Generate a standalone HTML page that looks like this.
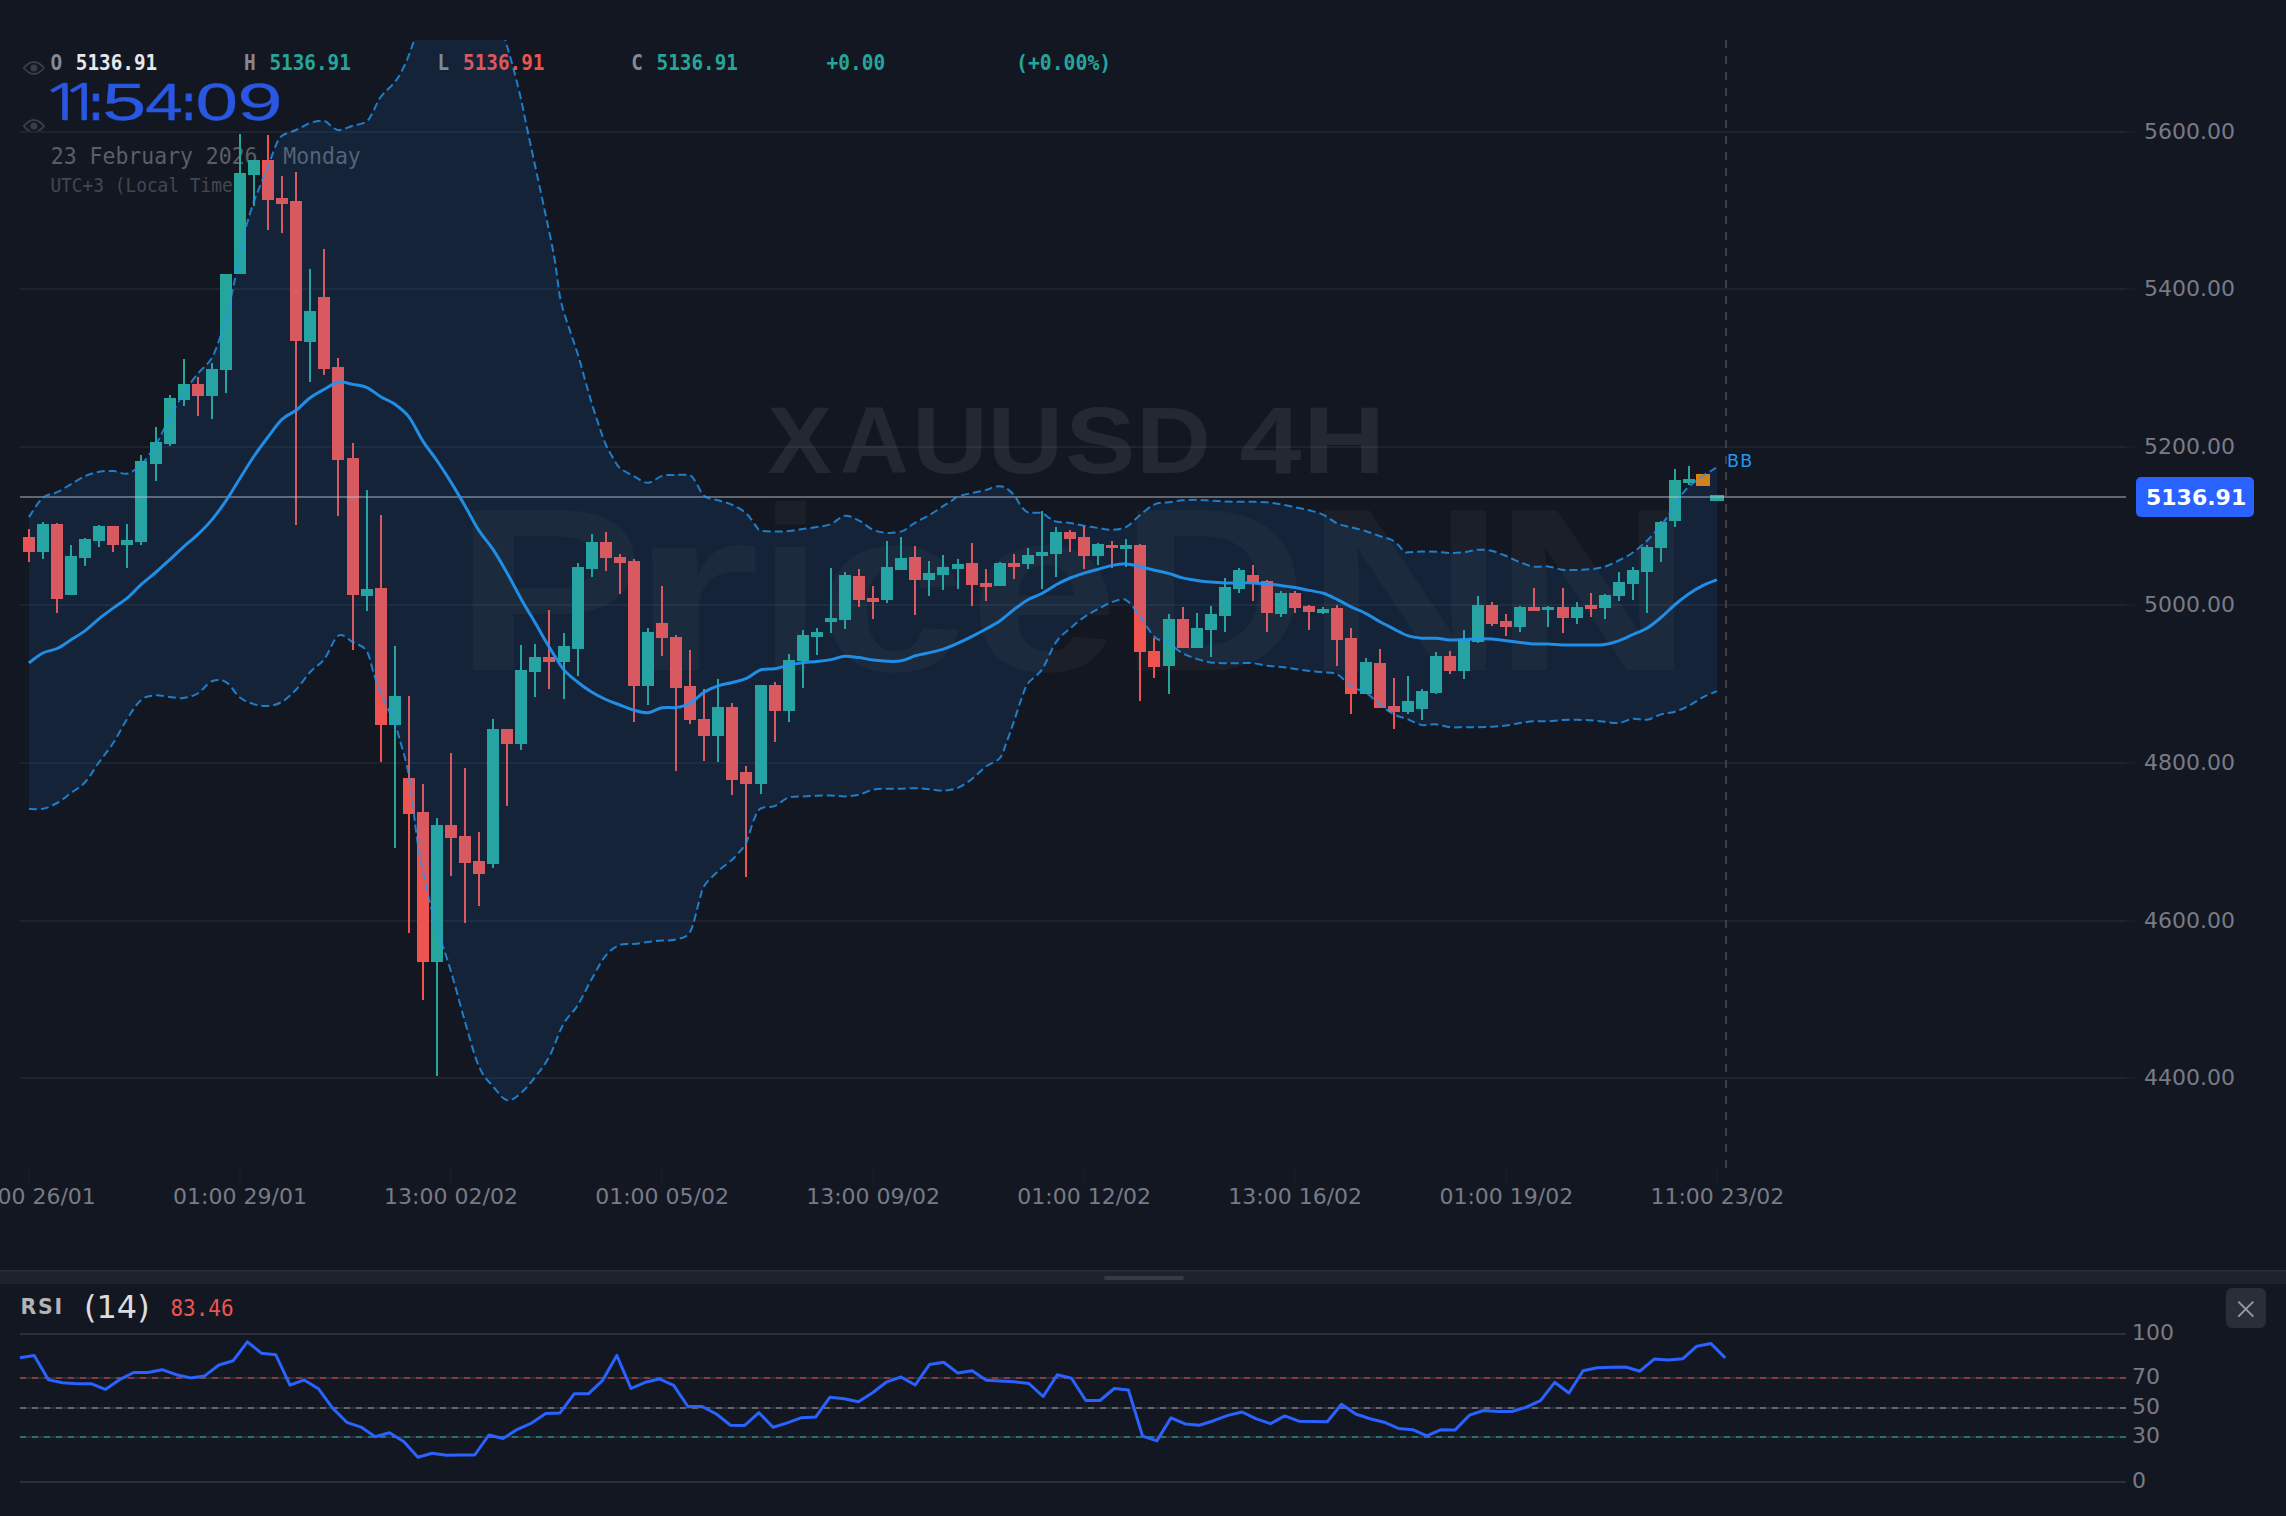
<!DOCTYPE html>
<html lang="en"><head><meta charset="utf-8"><title>XAUUSD 4H</title>
<style>
html,body{margin:0;padding:0;background:#131722;}
body{overflow-x:hidden;}
svg{display:block;width:100vw;height:auto;}
.ax{font-family:"DejaVu Sans","Liberation Sans",sans-serif;font-size:22px;fill:#787b86;}
.mono{font-family:"DejaVu Sans Mono","Liberation Mono",monospace;}
.sans{font-family:"DejaVu Sans","Liberation Sans",sans-serif;}
</style></head><body>
<svg viewBox="0 0 2286 1516" preserveAspectRatio="xMinYMin meet">
<rect width="2286" height="1516" fill="#131722"/>
<defs><clipPath id="pane"><rect x="0" y="40" width="2126" height="1128"/></clipPath></defs>
<g id="under">
<path d="M23.8 68 C26.8 64.4 29.3 62 33.9 62 C38.5 62 41 64.4 44 68 C41 71.6 38.5 74 33.9 74 C29.3 74 26.8 71.6 23.8 68 Z" fill="none" stroke="#3a3d48" stroke-width="1.8" stroke-linejoin="round"/>
<circle cx="33.9" cy="68" r="3.5" fill="#3a3d48"/>
<path d="M23.8 126.1 C26.8 122.5 29.3 120 33.9 120 C38.5 120 41 122.5 44 126.1 C41 129.7 38.5 132.2 33.9 132.2 C29.3 132.2 26.8 129.7 23.8 126.1 Z" fill="none" stroke="#3a3d48" stroke-width="1.8" stroke-linejoin="round"/>
<circle cx="33.9" cy="126.1" r="3.5" fill="#3a3d48"/>
<text class="mono" x="50.4" y="69.7" font-size="21.6" font-weight="bold" fill="#868993" textLength="11.7" lengthAdjust="spacingAndGlyphs">O</text>
<text class="mono" x="75.8" y="69.7" font-size="21.6" font-weight="bold" fill="#e6e8ec" textLength="81.4" lengthAdjust="spacingAndGlyphs">5136.91</text>
<text class="mono" x="244" y="69.7" font-size="21.6" font-weight="bold" fill="#868993" textLength="11.7" lengthAdjust="spacingAndGlyphs">H</text>
<text class="mono" x="269.4" y="69.7" font-size="21.6" font-weight="bold" fill="#26a69a" textLength="81.4" lengthAdjust="spacingAndGlyphs">5136.91</text>
<text class="mono" x="437.6" y="69.7" font-size="21.6" font-weight="bold" fill="#868993" textLength="11.7" lengthAdjust="spacingAndGlyphs">L</text>
<text class="mono" x="463" y="69.7" font-size="21.6" font-weight="bold" fill="#ef5350" textLength="81.4" lengthAdjust="spacingAndGlyphs">5136.91</text>
<text class="mono" x="631.2" y="69.7" font-size="21.6" font-weight="bold" fill="#868993" textLength="11.7" lengthAdjust="spacingAndGlyphs">C</text>
<text class="mono" x="656.6" y="69.7" font-size="21.6" font-weight="bold" fill="#26a69a" textLength="81.4" lengthAdjust="spacingAndGlyphs">5136.91</text>
<text class="mono" x="826.6" y="69.7" font-size="21.6" font-weight="bold" fill="#26a69a" textLength="58.6" lengthAdjust="spacingAndGlyphs">+0.00</text>
<text class="mono" x="1016" y="69.7" font-size="21.6" font-weight="bold" fill="#26a69a" textLength="95.2" lengthAdjust="spacingAndGlyphs">(+0.00%)</text>
<text font-family="Liberation Sans, sans-serif" y="119.9" font-size="52.3" fill="#2957e2" stroke="#2957e2" stroke-width="0.3"><tspan x="39.9" textLength="45.2" lengthAdjust="spacingAndGlyphs" font-weight="normal" font-family="NanumGothic, Liberation Sans, sans-serif" font-size="49.8">1</tspan><tspan x="60.1" textLength="44.0" lengthAdjust="spacingAndGlyphs" font-weight="normal" font-family="NanumGothic, Liberation Sans, sans-serif" font-size="49.8">1</tspan><tspan x="89.2" textLength="13.6" lengthAdjust="spacingAndGlyphs" font-weight="bold">:</tspan><tspan x="102.2" textLength="44.0" lengthAdjust="spacingAndGlyphs" font-weight="normal">5</tspan><tspan x="145.2" textLength="37.6" lengthAdjust="spacingAndGlyphs" font-weight="normal">4</tspan><tspan x="182.0" textLength="13.6" lengthAdjust="spacingAndGlyphs" font-weight="bold">:</tspan><tspan x="195.4" textLength="42.5" lengthAdjust="spacingAndGlyphs" font-weight="normal">0</tspan><tspan x="237.2" textLength="45.4" lengthAdjust="spacingAndGlyphs" font-weight="normal">9</tspan></text>
<text class="mono" x="50.8" y="164.3" font-size="23.4" fill="#5b5e69" textLength="310" lengthAdjust="spacingAndGlyphs">23 February 2026, Monday</text>
<text class="mono" x="50.4" y="192" font-size="18.8" fill="#444751" textLength="193" lengthAdjust="spacingAndGlyphs">UTC+3 (Local Time)</text>
</g>
<rect x="20" y="131" width="2106" height="2" fill="#1f232e"/>
<rect x="2126" y="131" width="12" height="2" fill="#181c27"/>
<text class="ax" x="2144" y="139.2">5600.00</text>
<rect x="20" y="288" width="2106" height="2" fill="#1f232e"/>
<rect x="2126" y="288" width="12" height="2" fill="#181c27"/>
<text class="ax" x="2144" y="296.2">5400.00</text>
<rect x="20" y="446" width="2106" height="2" fill="#1f232e"/>
<rect x="2126" y="446" width="12" height="2" fill="#181c27"/>
<text class="ax" x="2144" y="454.2">5200.00</text>
<rect x="20" y="604" width="2106" height="2" fill="#1f232e"/>
<rect x="2126" y="604" width="12" height="2" fill="#181c27"/>
<text class="ax" x="2144" y="612.2">5000.00</text>
<rect x="20" y="762" width="2106" height="2" fill="#1f232e"/>
<rect x="2126" y="762" width="12" height="2" fill="#181c27"/>
<text class="ax" x="2144" y="770.2">4800.00</text>
<rect x="20" y="920" width="2106" height="2" fill="#1f232e"/>
<rect x="2126" y="920" width="12" height="2" fill="#181c27"/>
<text class="ax" x="2144" y="928.2">4600.00</text>
<rect x="20" y="1077" width="2106" height="2" fill="#1f232e"/>
<rect x="2126" y="1077" width="12" height="2" fill="#181c27"/>
<text class="ax" x="2144" y="1085.2">4400.00</text>
<line x1="1726" y1="40" x2="1726" y2="1168" stroke="#3d3e45" stroke-width="2" stroke-dasharray="8 8"/>
<g clip-path="url(#pane)">
<text font-family="Liberation Sans, sans-serif" y="473" font-size="94.5" fill="#ffffff" fill-opacity="0.075"><tspan x="767.6" textLength="64.4" lengthAdjust="spacingAndGlyphs" font-weight="bold">X</tspan><tspan x="840.1" textLength="68.7" lengthAdjust="spacingAndGlyphs" font-weight="bold">A</tspan><tspan x="912.3" textLength="75.6" lengthAdjust="spacingAndGlyphs" font-weight="bold">U</tspan><tspan x="987.4" textLength="75.6" lengthAdjust="spacingAndGlyphs" font-weight="bold">U</tspan><tspan x="1065.4" textLength="69.8" lengthAdjust="spacingAndGlyphs" font-weight="bold">S</tspan><tspan x="1135.9" textLength="74.9" lengthAdjust="spacingAndGlyphs" font-weight="bold">D</tspan><tspan> </tspan><tspan x="1239.6" textLength="61.9" lengthAdjust="spacingAndGlyphs" font-weight="bold">4</tspan><tspan x="1303.0" textLength="82.3" lengthAdjust="spacingAndGlyphs" font-weight="bold">H</tspan></text>
<text font-family="Liberation Sans, sans-serif" y="670.6" font-size="233" fill="#ffffff" fill-opacity="0.035"><tspan x="453.4" textLength="190.5" lengthAdjust="spacingAndGlyphs" font-weight="bold">P</tspan><tspan x="629.0" textLength="131.8" lengthAdjust="spacingAndGlyphs" font-weight="bold">r</tspan><tspan x="759.7" textLength="61.5" lengthAdjust="spacingAndGlyphs" font-weight="bold">i</tspan><tspan x="818.6" textLength="147.7" lengthAdjust="spacingAndGlyphs" font-weight="bold">c</tspan><tspan x="969.2" textLength="149.5" lengthAdjust="spacingAndGlyphs" font-weight="bold">e</tspan><tspan x="1119.3" textLength="187.9" lengthAdjust="spacingAndGlyphs" font-weight="bold">D</tspan><tspan x="1305.5" textLength="199.1" lengthAdjust="spacingAndGlyphs" font-weight="bold">N</tspan><tspan x="1493.1" textLength="199.5" lengthAdjust="spacingAndGlyphs" font-weight="bold">N</tspan></text>
<rect x="28" y="529" width="2" height="33" fill="#ef5350"/>
<rect x="23" y="537" width="12" height="15" fill="#ef5350"/>
<rect x="42" y="522" width="2" height="37" fill="#26a69a"/>
<rect x="37" y="524" width="12" height="28" fill="#26a69a"/>
<rect x="56" y="523" width="2" height="90" fill="#ef5350"/>
<rect x="51" y="524" width="12" height="75" fill="#ef5350"/>
<rect x="70" y="545" width="2" height="50" fill="#26a69a"/>
<rect x="65" y="556" width="12" height="39" fill="#26a69a"/>
<rect x="84" y="538" width="2" height="28" fill="#26a69a"/>
<rect x="79" y="539" width="12" height="19" fill="#26a69a"/>
<rect x="98" y="525" width="2" height="22" fill="#26a69a"/>
<rect x="93" y="526" width="12" height="15" fill="#26a69a"/>
<rect x="112" y="526" width="2" height="26" fill="#ef5350"/>
<rect x="107" y="526" width="12" height="19" fill="#ef5350"/>
<rect x="126" y="524" width="2" height="44" fill="#26a69a"/>
<rect x="121" y="540" width="12" height="5" fill="#26a69a"/>
<rect x="140" y="455" width="2" height="90" fill="#26a69a"/>
<rect x="135" y="461" width="12" height="81" fill="#26a69a"/>
<rect x="155" y="427" width="2" height="54" fill="#26a69a"/>
<rect x="150" y="442" width="12" height="22" fill="#26a69a"/>
<rect x="169" y="395" width="2" height="51" fill="#26a69a"/>
<rect x="164" y="398" width="12" height="46" fill="#26a69a"/>
<rect x="183" y="359" width="2" height="47" fill="#26a69a"/>
<rect x="178" y="384" width="12" height="16" fill="#26a69a"/>
<rect x="197" y="377" width="2" height="39" fill="#ef5350"/>
<rect x="192" y="384" width="12" height="12" fill="#ef5350"/>
<rect x="211" y="363" width="2" height="56" fill="#26a69a"/>
<rect x="206" y="369" width="12" height="27" fill="#26a69a"/>
<rect x="225" y="274" width="2" height="119" fill="#26a69a"/>
<rect x="220" y="274" width="12" height="96" fill="#26a69a"/>
<rect x="239" y="134" width="2" height="140" fill="#26a69a"/>
<rect x="234" y="173" width="12" height="101" fill="#26a69a"/>
<rect x="253" y="160" width="2" height="46" fill="#26a69a"/>
<rect x="248" y="160" width="12" height="15" fill="#26a69a"/>
<rect x="267" y="135" width="2" height="95" fill="#ef5350"/>
<rect x="262" y="160" width="12" height="40" fill="#ef5350"/>
<rect x="281" y="176" width="2" height="57" fill="#ef5350"/>
<rect x="276" y="198" width="12" height="6" fill="#ef5350"/>
<rect x="295" y="172" width="2" height="353" fill="#ef5350"/>
<rect x="290" y="201" width="12" height="140" fill="#ef5350"/>
<rect x="309" y="269" width="2" height="113" fill="#26a69a"/>
<rect x="304" y="311" width="12" height="31" fill="#26a69a"/>
<rect x="323" y="249" width="2" height="126" fill="#ef5350"/>
<rect x="318" y="297" width="12" height="72" fill="#ef5350"/>
<rect x="337" y="358" width="2" height="158" fill="#ef5350"/>
<rect x="332" y="367" width="12" height="93" fill="#ef5350"/>
<rect x="352" y="443" width="2" height="207" fill="#ef5350"/>
<rect x="347" y="458" width="12" height="137" fill="#ef5350"/>
<rect x="366" y="490" width="2" height="121" fill="#26a69a"/>
<rect x="361" y="589" width="12" height="7" fill="#26a69a"/>
<rect x="380" y="515" width="2" height="247" fill="#ef5350"/>
<rect x="375" y="588" width="12" height="137" fill="#ef5350"/>
<rect x="394" y="646" width="2" height="202" fill="#26a69a"/>
<rect x="389" y="696" width="12" height="29" fill="#26a69a"/>
<rect x="408" y="696" width="2" height="237" fill="#ef5350"/>
<rect x="403" y="778" width="12" height="36" fill="#ef5350"/>
<rect x="422" y="784" width="2" height="216" fill="#ef5350"/>
<rect x="417" y="812" width="12" height="150" fill="#ef5350"/>
<rect x="436" y="818" width="2" height="258" fill="#26a69a"/>
<rect x="431" y="825" width="12" height="137" fill="#26a69a"/>
<rect x="450" y="753" width="2" height="123" fill="#ef5350"/>
<rect x="445" y="825" width="12" height="13" fill="#ef5350"/>
<rect x="464" y="768" width="2" height="155" fill="#ef5350"/>
<rect x="459" y="836" width="12" height="27" fill="#ef5350"/>
<rect x="478" y="832" width="2" height="74" fill="#ef5350"/>
<rect x="473" y="861" width="12" height="13" fill="#ef5350"/>
<rect x="492" y="719" width="2" height="149" fill="#26a69a"/>
<rect x="487" y="729" width="12" height="135" fill="#26a69a"/>
<rect x="506" y="729" width="2" height="77" fill="#ef5350"/>
<rect x="501" y="729" width="12" height="15" fill="#ef5350"/>
<rect x="520" y="645" width="2" height="105" fill="#26a69a"/>
<rect x="515" y="670" width="12" height="74" fill="#26a69a"/>
<rect x="534" y="644" width="2" height="53" fill="#26a69a"/>
<rect x="529" y="657" width="12" height="15" fill="#26a69a"/>
<rect x="548" y="610" width="2" height="79" fill="#ef5350"/>
<rect x="543" y="657" width="12" height="5" fill="#ef5350"/>
<rect x="563" y="633" width="2" height="66" fill="#26a69a"/>
<rect x="558" y="646" width="12" height="16" fill="#26a69a"/>
<rect x="577" y="563" width="2" height="113" fill="#26a69a"/>
<rect x="572" y="567" width="12" height="82" fill="#26a69a"/>
<rect x="591" y="534" width="2" height="43" fill="#26a69a"/>
<rect x="586" y="542" width="12" height="27" fill="#26a69a"/>
<rect x="605" y="532" width="2" height="39" fill="#ef5350"/>
<rect x="600" y="542" width="12" height="16" fill="#ef5350"/>
<rect x="619" y="554" width="2" height="40" fill="#ef5350"/>
<rect x="614" y="557" width="12" height="6" fill="#ef5350"/>
<rect x="633" y="559" width="2" height="163" fill="#ef5350"/>
<rect x="628" y="561" width="12" height="125" fill="#ef5350"/>
<rect x="647" y="628" width="2" height="77" fill="#26a69a"/>
<rect x="642" y="632" width="12" height="54" fill="#26a69a"/>
<rect x="661" y="586" width="2" height="70" fill="#ef5350"/>
<rect x="656" y="623" width="12" height="15" fill="#ef5350"/>
<rect x="675" y="635" width="2" height="136" fill="#ef5350"/>
<rect x="670" y="637" width="12" height="51" fill="#ef5350"/>
<rect x="689" y="650" width="2" height="74" fill="#ef5350"/>
<rect x="684" y="686" width="12" height="34" fill="#ef5350"/>
<rect x="703" y="689" width="2" height="72" fill="#ef5350"/>
<rect x="698" y="719" width="12" height="17" fill="#ef5350"/>
<rect x="717" y="679" width="2" height="83" fill="#26a69a"/>
<rect x="712" y="707" width="12" height="29" fill="#26a69a"/>
<rect x="731" y="703" width="2" height="92" fill="#ef5350"/>
<rect x="726" y="707" width="12" height="73" fill="#ef5350"/>
<rect x="745" y="766" width="2" height="111" fill="#ef5350"/>
<rect x="740" y="772" width="12" height="12" fill="#ef5350"/>
<rect x="760" y="685" width="2" height="109" fill="#26a69a"/>
<rect x="755" y="685" width="12" height="99" fill="#26a69a"/>
<rect x="774" y="682" width="2" height="60" fill="#ef5350"/>
<rect x="769" y="685" width="12" height="26" fill="#ef5350"/>
<rect x="788" y="654" width="2" height="68" fill="#26a69a"/>
<rect x="783" y="660" width="12" height="51" fill="#26a69a"/>
<rect x="802" y="630" width="2" height="58" fill="#26a69a"/>
<rect x="797" y="635" width="12" height="26" fill="#26a69a"/>
<rect x="816" y="628" width="2" height="27" fill="#26a69a"/>
<rect x="811" y="632" width="12" height="5" fill="#26a69a"/>
<rect x="830" y="568" width="2" height="65" fill="#26a69a"/>
<rect x="825" y="618" width="12" height="4" fill="#26a69a"/>
<rect x="844" y="572" width="2" height="57" fill="#26a69a"/>
<rect x="839" y="575" width="12" height="45" fill="#26a69a"/>
<rect x="858" y="569" width="2" height="38" fill="#ef5350"/>
<rect x="853" y="576" width="12" height="24" fill="#ef5350"/>
<rect x="872" y="586" width="2" height="33" fill="#ef5350"/>
<rect x="867" y="598" width="12" height="4" fill="#ef5350"/>
<rect x="886" y="541" width="2" height="62" fill="#26a69a"/>
<rect x="881" y="567" width="12" height="33" fill="#26a69a"/>
<rect x="900" y="537" width="2" height="33" fill="#26a69a"/>
<rect x="895" y="558" width="12" height="12" fill="#26a69a"/>
<rect x="914" y="546" width="2" height="69" fill="#ef5350"/>
<rect x="909" y="557" width="12" height="23" fill="#ef5350"/>
<rect x="928" y="561" width="2" height="35" fill="#26a69a"/>
<rect x="923" y="573" width="12" height="7" fill="#26a69a"/>
<rect x="942" y="555" width="2" height="35" fill="#26a69a"/>
<rect x="937" y="567" width="12" height="8" fill="#26a69a"/>
<rect x="957" y="559" width="2" height="30" fill="#26a69a"/>
<rect x="952" y="564" width="12" height="5" fill="#26a69a"/>
<rect x="971" y="543" width="2" height="63" fill="#ef5350"/>
<rect x="966" y="563" width="12" height="22" fill="#ef5350"/>
<rect x="985" y="569" width="2" height="32" fill="#ef5350"/>
<rect x="980" y="583" width="12" height="4" fill="#ef5350"/>
<rect x="999" y="562" width="2" height="24" fill="#26a69a"/>
<rect x="994" y="563" width="12" height="23" fill="#26a69a"/>
<rect x="1013" y="554" width="2" height="25" fill="#ef5350"/>
<rect x="1008" y="563" width="12" height="4" fill="#ef5350"/>
<rect x="1027" y="548" width="2" height="21" fill="#26a69a"/>
<rect x="1022" y="555" width="12" height="9" fill="#26a69a"/>
<rect x="1041" y="511" width="2" height="78" fill="#26a69a"/>
<rect x="1036" y="552" width="12" height="4" fill="#26a69a"/>
<rect x="1055" y="527" width="2" height="50" fill="#26a69a"/>
<rect x="1050" y="532" width="12" height="22" fill="#26a69a"/>
<rect x="1069" y="530" width="2" height="22" fill="#ef5350"/>
<rect x="1064" y="532" width="12" height="7" fill="#ef5350"/>
<rect x="1083" y="526" width="2" height="43" fill="#ef5350"/>
<rect x="1078" y="537" width="12" height="19" fill="#ef5350"/>
<rect x="1097" y="543" width="2" height="22" fill="#26a69a"/>
<rect x="1092" y="544" width="12" height="12" fill="#26a69a"/>
<rect x="1111" y="541" width="2" height="27" fill="#ef5350"/>
<rect x="1106" y="545" width="12" height="3" fill="#ef5350"/>
<rect x="1125" y="539" width="2" height="28" fill="#26a69a"/>
<rect x="1120" y="545" width="12" height="4" fill="#26a69a"/>
<rect x="1139" y="544" width="2" height="157" fill="#ef5350"/>
<rect x="1134" y="545" width="12" height="107" fill="#ef5350"/>
<rect x="1153" y="638" width="2" height="40" fill="#ef5350"/>
<rect x="1148" y="651" width="12" height="16" fill="#ef5350"/>
<rect x="1168" y="614" width="2" height="80" fill="#26a69a"/>
<rect x="1163" y="619" width="12" height="47" fill="#26a69a"/>
<rect x="1182" y="607" width="2" height="41" fill="#ef5350"/>
<rect x="1177" y="619" width="12" height="29" fill="#ef5350"/>
<rect x="1196" y="613" width="2" height="35" fill="#26a69a"/>
<rect x="1191" y="628" width="12" height="20" fill="#26a69a"/>
<rect x="1210" y="606" width="2" height="51" fill="#26a69a"/>
<rect x="1205" y="614" width="12" height="16" fill="#26a69a"/>
<rect x="1224" y="578" width="2" height="54" fill="#26a69a"/>
<rect x="1219" y="587" width="12" height="29" fill="#26a69a"/>
<rect x="1238" y="568" width="2" height="25" fill="#26a69a"/>
<rect x="1233" y="570" width="12" height="19" fill="#26a69a"/>
<rect x="1252" y="565" width="2" height="36" fill="#ef5350"/>
<rect x="1247" y="575" width="12" height="8" fill="#ef5350"/>
<rect x="1266" y="580" width="2" height="52" fill="#ef5350"/>
<rect x="1261" y="581" width="12" height="32" fill="#ef5350"/>
<rect x="1280" y="591" width="2" height="26" fill="#26a69a"/>
<rect x="1275" y="593" width="12" height="21" fill="#26a69a"/>
<rect x="1294" y="591" width="2" height="22" fill="#ef5350"/>
<rect x="1289" y="593" width="12" height="15" fill="#ef5350"/>
<rect x="1308" y="605" width="2" height="25" fill="#ef5350"/>
<rect x="1303" y="606" width="12" height="6" fill="#ef5350"/>
<rect x="1322" y="607" width="2" height="7" fill="#26a69a"/>
<rect x="1317" y="609" width="12" height="4" fill="#26a69a"/>
<rect x="1336" y="605" width="2" height="61" fill="#ef5350"/>
<rect x="1331" y="608" width="12" height="32" fill="#ef5350"/>
<rect x="1350" y="628" width="2" height="86" fill="#ef5350"/>
<rect x="1345" y="638" width="12" height="56" fill="#ef5350"/>
<rect x="1365" y="658" width="2" height="36" fill="#26a69a"/>
<rect x="1360" y="662" width="12" height="32" fill="#26a69a"/>
<rect x="1379" y="649" width="2" height="59" fill="#ef5350"/>
<rect x="1374" y="663" width="12" height="45" fill="#ef5350"/>
<rect x="1393" y="678" width="2" height="51" fill="#ef5350"/>
<rect x="1388" y="706" width="12" height="6" fill="#ef5350"/>
<rect x="1407" y="676" width="2" height="38" fill="#26a69a"/>
<rect x="1402" y="701" width="12" height="11" fill="#26a69a"/>
<rect x="1421" y="689" width="2" height="31" fill="#26a69a"/>
<rect x="1416" y="691" width="12" height="18" fill="#26a69a"/>
<rect x="1435" y="652" width="2" height="42" fill="#26a69a"/>
<rect x="1430" y="656" width="12" height="37" fill="#26a69a"/>
<rect x="1449" y="651" width="2" height="23" fill="#ef5350"/>
<rect x="1444" y="656" width="12" height="15" fill="#ef5350"/>
<rect x="1463" y="630" width="2" height="49" fill="#26a69a"/>
<rect x="1458" y="640" width="12" height="31" fill="#26a69a"/>
<rect x="1477" y="596" width="2" height="47" fill="#26a69a"/>
<rect x="1472" y="605" width="12" height="37" fill="#26a69a"/>
<rect x="1491" y="602" width="2" height="24" fill="#ef5350"/>
<rect x="1486" y="605" width="12" height="19" fill="#ef5350"/>
<rect x="1505" y="614" width="2" height="22" fill="#ef5350"/>
<rect x="1500" y="621" width="12" height="6" fill="#ef5350"/>
<rect x="1519" y="606" width="2" height="26" fill="#26a69a"/>
<rect x="1514" y="607" width="12" height="20" fill="#26a69a"/>
<rect x="1533" y="588" width="2" height="23" fill="#ef5350"/>
<rect x="1528" y="607" width="12" height="4" fill="#ef5350"/>
<rect x="1547" y="606" width="2" height="21" fill="#26a69a"/>
<rect x="1542" y="607" width="12" height="3" fill="#26a69a"/>
<rect x="1562" y="588" width="2" height="45" fill="#ef5350"/>
<rect x="1557" y="607" width="12" height="11" fill="#ef5350"/>
<rect x="1576" y="602" width="2" height="22" fill="#26a69a"/>
<rect x="1571" y="607" width="12" height="11" fill="#26a69a"/>
<rect x="1590" y="593" width="2" height="24" fill="#ef5350"/>
<rect x="1585" y="605" width="12" height="4" fill="#ef5350"/>
<rect x="1604" y="594" width="2" height="25" fill="#26a69a"/>
<rect x="1599" y="595" width="12" height="13" fill="#26a69a"/>
<rect x="1618" y="572" width="2" height="29" fill="#26a69a"/>
<rect x="1613" y="582" width="12" height="14" fill="#26a69a"/>
<rect x="1632" y="567" width="2" height="33" fill="#26a69a"/>
<rect x="1627" y="570" width="12" height="14" fill="#26a69a"/>
<rect x="1646" y="545" width="2" height="68" fill="#26a69a"/>
<rect x="1641" y="547" width="12" height="25" fill="#26a69a"/>
<rect x="1660" y="521" width="2" height="41" fill="#26a69a"/>
<rect x="1655" y="522" width="12" height="26" fill="#26a69a"/>
<rect x="1674" y="469" width="2" height="58" fill="#26a69a"/>
<rect x="1669" y="480" width="12" height="41" fill="#26a69a"/>
<rect x="1688" y="466" width="2" height="19" fill="#26a69a"/>
<rect x="1683" y="479" width="12" height="4" fill="#26a69a"/>
<rect x="1696" y="474" width="14" height="12" fill="#e58006"/>
<rect x="1710" y="495" width="14" height="6" fill="#26a69a"/>
<rect x="20" y="496" width="2106" height="2" fill="#c8c8cd" fill-opacity="0.45"/>
<path d="M28.9 517.1 C31.2 513.9 38.2 501.9 42.9 497.7 C47.6 493.5 52.4 494.4 57.1 492.2 C61.8 489.9 66.3 486.9 71 484.2 C75.7 481.5 80.6 478.1 85.3 476 C90 473.9 94.5 472.6 99.2 471.8 C103.9 471 108.8 470.7 113.5 471 C118.2 471.3 122.7 474.7 127.4 473.5 C132.1 472.3 136.9 468.7 141.6 464 C146.3 459.3 150.8 453 155.5 445.3 C160.2 437.6 164.9 426.6 169.6 417.9 C174.3 409.2 179 400.4 183.7 393 C188.4 385.6 193 379.6 197.7 373.8 C202.4 368 207.8 364.8 211.8 358 C215.8 351.2 219.2 339.4 221.5 333.1 C223.8 326.8 224 327.5 225.9 320 C227.8 312.5 230.8 299.1 233.1 288.2 C235.4 277.3 237.8 265.1 240 254.8 C242.2 244.5 244 235.2 246.3 226.3 C248.6 217.4 251.5 208.6 254 201.4 C256.5 194.2 258.9 188.8 261.2 183 C263.5 177.2 265.5 172.8 268 166.5 C270.5 160.2 273.7 150.1 276 145 C278.3 139.9 278.7 138.2 282 135.7 C285.3 133.2 291.3 132.1 296 130 C300.7 127.9 305.8 124.5 310 123 C314.2 121.5 318.3 121 321 120.8 C323.7 120.6 323.2 120.1 326 121.6 C328.8 123.1 333.3 129.3 337.7 130 C342.1 130.7 347.8 127.2 352.6 125.8 C357.4 124.4 363 123.9 366.4 121.5 C369.8 119.1 370.8 115.6 373.2 111.5 C375.6 107.4 377.1 101.9 380.7 97 C384.3 92.1 391.3 86.5 394.9 82 C398.5 77.5 399.9 74.4 402.3 69.9 C404.7 65.4 407.1 59.8 409 54.9 C410.9 50 412.2 46.1 414 40.3 C415.8 34.5 405.7 23.4 420 20 C434.3 16.6 485.8 16.6 500 20 C514.2 23.4 503.2 32.5 505.4 40.3 C507.5 48.1 510.4 57.2 512.9 66.6 C515.4 76 518 86.3 520.4 96.5 C522.8 106.7 524.6 116.9 527 128 C529.4 139.1 531.6 149.4 534.5 163 C537.4 176.6 541.2 193.7 544.5 209.5 C547.8 225.3 551.7 242.6 554.4 257.7 C557.1 272.8 558 288 560.6 300 C563.2 312 566.8 320.8 569.7 329.9 C572.6 339 575.2 345.8 578 354.9 C580.8 364 584.1 376.8 586.4 384.8 C588.7 392.8 589.5 395.9 591.7 403.1 C593.9 410.3 597.4 421.1 599.7 428 C602.1 434.9 603.6 439.6 605.8 444.6 C608 449.6 610.7 454 613 457.9 C615.3 461.8 616.3 464.8 619.8 467.9 C623.3 470.9 629.2 473.7 633.9 476.2 C638.6 478.7 643.2 482.9 647.9 482.8 C652.6 482.8 657.3 477.2 662 475.9 C666.7 474.6 671.4 475 676.1 474.9 C680.8 474.8 686.9 474.1 690.2 475.4 C693.5 476.7 693.7 479.4 696.1 482.8 C698.5 486.2 700.7 493.2 704.4 496.1 C708.1 499 713.6 498.9 718.3 500.3 C722.9 501.8 727.6 502.6 732.3 504.8 C737 507 742.5 510 746.4 513.5 C750.3 517 753.5 523.1 755.9 526 C758.3 528.9 757.5 529.7 760.6 530.6 C763.7 531.5 769.8 531.4 774.5 531.5 C779.2 531.6 783.9 531.5 788.6 531.1 C793.3 530.7 798 529.7 802.7 529 C807.4 528.3 812.1 527.9 816.8 527.1 C821.5 526.3 826.3 525.9 831 524 C835.7 522.1 840.3 516.2 845 515.7 C849.7 515.2 854.5 518.3 859.2 520.7 C863.9 523.1 868.5 527.9 873.1 529.9 C877.8 531.9 882.4 532.6 887.1 532.9 C891.9 533.1 897.8 532.5 901.6 531.4 C905.4 530.3 907.5 527.9 909.9 526.4 C912.2 524.9 912.4 524.2 915.7 522.3 C919 520.4 925.1 517.6 929.8 514.8 C934.5 512 940 508.2 943.9 505.7 C947.8 503.2 950.7 501.3 953.1 499.8 C955.5 498.3 954.9 497.6 958.1 496.5 C961.3 495.4 967.5 494 972.2 492.9 C976.9 491.8 982.8 490.8 986.3 489.9 C989.8 489 990.8 488 993 487.4 C995.2 486.8 997.4 486.1 999.6 486.2 C1001.8 486.3 1003.8 486.6 1006.3 488.2 C1008.8 489.8 1012.4 493.1 1014.6 495.7 C1016.8 498.3 1017.7 501.4 1019.6 504 C1021.5 506.6 1024 510 1026.2 511.5 C1028.4 513 1030.3 512.5 1032.9 512.8 C1035.5 513.1 1039.2 512.2 1042 513.1 C1044.8 514 1047.2 516.7 1049.5 518.1 C1051.8 519.5 1052.6 520.7 1056.1 521.5 C1059.6 522.3 1065.6 522.4 1070.3 523.1 C1075 523.8 1079.4 524.9 1084.1 525.7 C1088.8 526.5 1093.6 527.3 1098.3 528 C1103 528.7 1107.5 530 1112.2 529.8 C1116.9 529.6 1121.7 529.3 1126.4 526.8 C1131.1 524.3 1135.7 518.5 1140.4 514.8 C1145.1 511 1149.9 506.4 1154.6 504.3 C1159.3 502.2 1163.8 503 1168.5 502.3 C1173.2 501.6 1177.8 500.7 1182.5 500.3 C1187.2 499.9 1192 499.8 1196.7 499.8 C1201.4 499.9 1206 500.3 1210.7 500.6 C1215.4 500.9 1220.2 501.4 1224.9 501.6 C1229.6 501.8 1234.2 501.8 1238.9 501.8 C1243.6 501.8 1248.4 501.7 1253.1 501.8 C1257.8 501.9 1262.3 501.9 1267 502.3 C1271.7 502.7 1276.3 503.5 1281 504.3 C1285.7 505.1 1290.5 506.3 1295.2 507.3 C1299.9 508.3 1304.5 509.1 1309.2 510.3 C1313.9 511.6 1318.7 512.6 1323.4 514.8 C1328.1 517 1332.7 521.4 1337.4 523.5 C1342.1 525.6 1346.9 526 1351.6 527.3 C1356.3 528.5 1360.8 529.5 1365.5 531 C1370.2 532.5 1374.8 534.3 1379.5 536 C1384.2 537.7 1389.6 538.4 1393.7 541 C1397.8 543.6 1401.9 549.6 1404.2 551.5 C1406.5 553.4 1404.8 552.2 1407.7 552.2 C1410.7 552.2 1417.2 551.6 1421.9 551.5 C1426.6 551.4 1431.1 551.5 1435.8 551.7 C1440.5 552 1445.3 552.9 1450 553 C1454.7 553.1 1459.3 552.8 1464 552.2 C1468.7 551.7 1473.3 549.9 1478 549.7 C1482.7 549.5 1487.5 550 1492.2 551 C1496.9 552 1501.6 554.1 1506.2 556 C1510.8 557.9 1515.4 560.4 1520.1 562.2 C1524.8 564 1529.6 566 1534.3 566.7 C1539 567.4 1543.6 565.9 1548.3 566.4 C1553 566.9 1557.8 569.1 1562.5 569.7 C1567.2 570.3 1571.8 570 1576.5 569.9 C1581.2 569.8 1585.8 569.8 1590.5 569.2 C1595.2 568.7 1600 568.1 1604.7 566.6 C1609.4 565.1 1614 562.9 1618.7 560.5 C1623.4 558.1 1628.2 555.8 1632.9 552.5 C1637.6 549.2 1642.1 545.5 1646.8 541 C1651.5 536.5 1657.2 530.1 1661 525.5 C1664.8 520.9 1667.5 516.7 1669.8 513.1 C1672.1 509.5 1672.9 507.2 1675.1 503.9 C1677.3 500.5 1680.7 495.9 1683 493 C1685.3 490.1 1685.6 489.4 1689 486.5 C1692.4 483.6 1698.7 478.8 1703.2 475.7 C1707.7 472.6 1713.9 469.2 1716 467.9 L1717 467.5 L1717 691 L1717 691.1 C1714.7 692.1 1707.9 694.8 1703.2 697.2 C1698.5 699.6 1693.7 703.2 1689 705.6 C1684.3 708 1679.8 710.2 1675.1 711.7 C1670.4 713.2 1665.7 713 1661 714.4 C1656.3 715.8 1651.5 719.1 1646.8 719.8 C1642.1 720.5 1637.6 718.3 1632.9 718.8 C1628.2 719.3 1623.4 722.5 1618.7 723 C1614 723.5 1609.4 722.2 1604.7 721.8 C1600 721.3 1595.2 720.6 1590.5 720.3 C1585.8 720 1581.2 719.8 1576.5 719.8 C1571.8 719.8 1567.2 719.8 1562.5 720 C1557.8 720.2 1553 721.1 1548.3 721.3 C1543.6 721.5 1539 721 1534.3 721.3 C1529.6 721.6 1524.8 722.3 1520.1 723 C1515.4 723.7 1510.8 724.9 1506.2 725.5 C1501.6 726.1 1496.9 726.4 1492.2 726.7 C1487.5 727 1482.7 727.1 1478 727.2 C1473.3 727.3 1468.7 727.2 1464 727.2 C1459.3 727.2 1454.7 727.7 1450 727.2 C1445.3 726.7 1440.5 724.7 1435.8 724.3 C1431.1 723.9 1426.6 725.8 1421.9 725 C1417.2 724.2 1412.4 721.1 1407.7 719.3 C1403 717.5 1398.4 716.8 1393.7 714.3 C1389 711.8 1384.2 708 1379.5 704.3 C1374.8 700.6 1370.2 695.2 1365.5 692.3 C1360.8 689.4 1356.3 689.9 1351.6 686.9 C1346.9 683.9 1342.1 676.8 1337.4 674.4 C1332.7 672 1328.1 672.9 1323.4 672.4 C1318.7 671.9 1313.9 671.7 1309.2 671.1 C1304.5 670.5 1299.9 669.6 1295.2 668.9 C1290.5 668.2 1285.7 667.4 1281 666.9 C1276.3 666.4 1271.7 666.3 1267 665.7 C1262.3 665.1 1257.8 663.6 1253.1 663.2 C1248.4 662.8 1243.6 663.2 1238.9 663.2 C1234.2 663.2 1229.6 663.3 1224.9 663.2 C1220.2 663.1 1215.4 663.1 1210.7 662.4 C1206 661.7 1201.4 660.4 1196.7 658.9 C1192 657.4 1187.2 655.8 1182.5 653.2 C1177.8 650.6 1173.2 645.9 1168.5 643.2 C1163.8 640.5 1159.3 641.4 1154.6 637 C1149.9 632.6 1145.1 623.1 1140.4 617 C1135.7 610.9 1131.1 602.8 1126.4 600.3 C1121.7 597.8 1116.9 600.6 1112.2 602.1 C1107.5 603.6 1103 606.5 1098.3 609 C1093.6 611.5 1088.8 614 1084.1 617.2 C1079.4 620.4 1074.8 624.2 1070.1 628.4 C1065.4 632.5 1060.8 635.2 1056.1 642.1 C1051.4 649 1046.6 662.7 1041.9 669.6 C1037.2 676.5 1031.5 678.3 1028 683.3 C1024.5 688.3 1023.6 693.1 1021.2 699.5 C1018.8 705.9 1016.3 714.6 1013.8 721.9 C1011.3 729.2 1008.6 737.1 1006.3 743.1 C1004 749.1 1003.2 754.2 999.8 758.1 C996.3 762 990.3 763.3 985.6 766.8 C980.9 770.3 976.3 775.8 971.6 779.3 C966.9 782.8 962.1 786.1 957.4 788 C952.7 789.9 948 790.5 943.4 790.7 C938.8 790.9 934.2 789.6 929.5 789.2 C924.8 788.8 920 788.3 915.3 788.2 C910.6 788.1 906 788.6 901.3 788.7 C896.6 788.8 891.8 788.5 887.1 788.7 C882.4 788.9 877.8 788.7 873.1 789.7 C868.5 790.7 863.9 793.5 859.2 794.6 C854.5 795.7 849.7 796.3 845 796.4 C840.3 796.5 835.7 795.5 831 795.4 C826.3 795.3 821.5 795.6 816.8 795.8 C812.1 796 807.5 796.1 802.8 796.4 C798.1 796.7 793.4 795.9 788.7 797.5 C784 799.1 779.2 804.2 774.5 806.1 C769.8 808 764 806.3 760.5 808.6 C757 810.9 756.1 814.4 753.8 820 C751.5 825.6 748.6 837.2 746.6 842 C744.6 846.8 744.4 846.1 742 849 C739.6 851.9 736.3 855.9 732.4 859.5 C728.5 863.1 723.1 866.5 718.4 870.9 C713.7 875.3 707.4 880.7 704.2 885.9 C701 891.1 701.4 894.3 699 902 C696.6 909.7 693.8 925.8 690 932 C686.2 938.2 680.7 938.1 676 939.5 C671.3 940.9 666.7 940.1 662 940.5 C657.3 940.9 652.5 941.4 647.8 942 C643.1 942.6 638.6 943.5 633.9 944 C629.2 944.5 624.4 943 619.7 945 C615 947 610.4 950 605.7 955.7 C601 961.4 596.2 971.1 591.5 979.4 C586.8 987.7 582.2 998.1 577.5 1005.6 C572.8 1013.1 568 1015.8 563.3 1024.3 C558.6 1032.8 553.9 1048 549.3 1056.7 C544.6 1065.4 540.1 1070.6 535.4 1076.6 C530.7 1082.6 525.9 1088.8 521.2 1092.8 C516.5 1096.8 511.9 1101.3 507.2 1100.3 C502.5 1099.3 497.9 1092.2 493.2 1086.6 C488.5 1081 483.7 1077.4 479 1066.6 C474.3 1055.8 469.6 1037.6 465 1021.8 C460.4 1006 455.8 987.5 451.1 971.9 C446.4 956.3 440.8 940.8 436.9 928 C433 915.2 430.3 904.3 428 895 C425.7 885.7 424.7 881.2 422.9 872 C421.1 862.8 419.5 855.7 417.2 839.7 C414.9 823.7 411.5 792 408.8 776 C406.1 760 403.4 752.7 401 744 C398.6 735.3 398.1 732.5 394.7 724 C391.3 715.5 384.1 701.2 380.7 693 C377.2 684.8 376.4 681.5 374 674.5 C371.6 667.5 370.1 656.2 366.5 650.8 C362.9 645.4 357.3 644.5 352.6 642 C347.9 639.5 343.1 632.8 338.4 635.6 C333.7 638.4 329.1 652.9 324.4 659 C319.7 665.1 314.9 666.9 310.2 672 C305.5 677.1 300.9 684.5 296.2 689.5 C291.5 694.5 286.7 699 282 701.8 C277.3 704.5 272.7 705.6 268 706 C263.3 706.4 258.5 705.5 253.8 704.1 C249.1 702.7 244.5 701.2 239.9 697.5 C235.3 693.8 230.7 684.8 226 682.1 C221.3 679.4 216.7 679.4 212 681.3 C207.3 683.2 202.4 690.7 197.7 693.5 C193 696.3 188.5 697.4 183.8 698 C179.2 698.6 174.5 697.4 169.8 697 C165.1 696.6 160.3 695 155.6 695.4 C150.9 695.8 146.3 695.6 141.6 699.5 C136.9 703.4 132.1 711.3 127.4 718.5 C122.7 725.7 118.2 735.2 113.5 742.5 C108.8 749.8 103.9 755.4 99.2 762 C94.5 768.6 90 776.8 85.3 782 C80.6 787.2 75.7 789.5 71 793 C66.3 796.5 61.8 800.4 57.1 803 C52.4 805.6 47.6 807.8 42.9 808.8 C38.2 809.8 31.2 808.8 28.9 808.8 Z" fill="#2196f3" fill-opacity="0.1"/>
<path d="M28.9 517.1 C31.2 513.9 38.2 501.9 42.9 497.7 C47.6 493.5 52.4 494.4 57.1 492.2 C61.8 489.9 66.3 486.9 71 484.2 C75.7 481.5 80.6 478.1 85.3 476 C90 473.9 94.5 472.6 99.2 471.8 C103.9 471 108.8 470.7 113.5 471 C118.2 471.3 122.7 474.7 127.4 473.5 C132.1 472.3 136.9 468.7 141.6 464 C146.3 459.3 150.8 453 155.5 445.3 C160.2 437.6 164.9 426.6 169.6 417.9 C174.3 409.2 179 400.4 183.7 393 C188.4 385.6 193 379.6 197.7 373.8 C202.4 368 207.8 364.8 211.8 358 C215.8 351.2 219.2 339.4 221.5 333.1 C223.8 326.8 224 327.5 225.9 320 C227.8 312.5 230.8 299.1 233.1 288.2 C235.4 277.3 237.8 265.1 240 254.8 C242.2 244.5 244 235.2 246.3 226.3 C248.6 217.4 251.5 208.6 254 201.4 C256.5 194.2 258.9 188.8 261.2 183 C263.5 177.2 265.5 172.8 268 166.5 C270.5 160.2 273.7 150.1 276 145 C278.3 139.9 278.7 138.2 282 135.7 C285.3 133.2 291.3 132.1 296 130 C300.7 127.9 305.8 124.5 310 123 C314.2 121.5 318.3 121 321 120.8 C323.7 120.6 323.2 120.1 326 121.6 C328.8 123.1 333.3 129.3 337.7 130 C342.1 130.7 347.8 127.2 352.6 125.8 C357.4 124.4 363 123.9 366.4 121.5 C369.8 119.1 370.8 115.6 373.2 111.5 C375.6 107.4 377.1 101.9 380.7 97 C384.3 92.1 391.3 86.5 394.9 82 C398.5 77.5 399.9 74.4 402.3 69.9 C404.7 65.4 407.1 59.8 409 54.9 C410.9 50 412.2 46.1 414 40.3 C415.8 34.5 405.7 23.4 420 20 C434.3 16.6 485.8 16.6 500 20 C514.2 23.4 503.2 32.5 505.4 40.3 C507.5 48.1 510.4 57.2 512.9 66.6 C515.4 76 518 86.3 520.4 96.5 C522.8 106.7 524.6 116.9 527 128 C529.4 139.1 531.6 149.4 534.5 163 C537.4 176.6 541.2 193.7 544.5 209.5 C547.8 225.3 551.7 242.6 554.4 257.7 C557.1 272.8 558 288 560.6 300 C563.2 312 566.8 320.8 569.7 329.9 C572.6 339 575.2 345.8 578 354.9 C580.8 364 584.1 376.8 586.4 384.8 C588.7 392.8 589.5 395.9 591.7 403.1 C593.9 410.3 597.4 421.1 599.7 428 C602.1 434.9 603.6 439.6 605.8 444.6 C608 449.6 610.7 454 613 457.9 C615.3 461.8 616.3 464.8 619.8 467.9 C623.3 470.9 629.2 473.7 633.9 476.2 C638.6 478.7 643.2 482.9 647.9 482.8 C652.6 482.8 657.3 477.2 662 475.9 C666.7 474.6 671.4 475 676.1 474.9 C680.8 474.8 686.9 474.1 690.2 475.4 C693.5 476.7 693.7 479.4 696.1 482.8 C698.5 486.2 700.7 493.2 704.4 496.1 C708.1 499 713.6 498.9 718.3 500.3 C722.9 501.8 727.6 502.6 732.3 504.8 C737 507 742.5 510 746.4 513.5 C750.3 517 753.5 523.1 755.9 526 C758.3 528.9 757.5 529.7 760.6 530.6 C763.7 531.5 769.8 531.4 774.5 531.5 C779.2 531.6 783.9 531.5 788.6 531.1 C793.3 530.7 798 529.7 802.7 529 C807.4 528.3 812.1 527.9 816.8 527.1 C821.5 526.3 826.3 525.9 831 524 C835.7 522.1 840.3 516.2 845 515.7 C849.7 515.2 854.5 518.3 859.2 520.7 C863.9 523.1 868.5 527.9 873.1 529.9 C877.8 531.9 882.4 532.6 887.1 532.9 C891.9 533.1 897.8 532.5 901.6 531.4 C905.4 530.3 907.5 527.9 909.9 526.4 C912.2 524.9 912.4 524.2 915.7 522.3 C919 520.4 925.1 517.6 929.8 514.8 C934.5 512 940 508.2 943.9 505.7 C947.8 503.2 950.7 501.3 953.1 499.8 C955.5 498.3 954.9 497.6 958.1 496.5 C961.3 495.4 967.5 494 972.2 492.9 C976.9 491.8 982.8 490.8 986.3 489.9 C989.8 489 990.8 488 993 487.4 C995.2 486.8 997.4 486.1 999.6 486.2 C1001.8 486.3 1003.8 486.6 1006.3 488.2 C1008.8 489.8 1012.4 493.1 1014.6 495.7 C1016.8 498.3 1017.7 501.4 1019.6 504 C1021.5 506.6 1024 510 1026.2 511.5 C1028.4 513 1030.3 512.5 1032.9 512.8 C1035.5 513.1 1039.2 512.2 1042 513.1 C1044.8 514 1047.2 516.7 1049.5 518.1 C1051.8 519.5 1052.6 520.7 1056.1 521.5 C1059.6 522.3 1065.6 522.4 1070.3 523.1 C1075 523.8 1079.4 524.9 1084.1 525.7 C1088.8 526.5 1093.6 527.3 1098.3 528 C1103 528.7 1107.5 530 1112.2 529.8 C1116.9 529.6 1121.7 529.3 1126.4 526.8 C1131.1 524.3 1135.7 518.5 1140.4 514.8 C1145.1 511 1149.9 506.4 1154.6 504.3 C1159.3 502.2 1163.8 503 1168.5 502.3 C1173.2 501.6 1177.8 500.7 1182.5 500.3 C1187.2 499.9 1192 499.8 1196.7 499.8 C1201.4 499.9 1206 500.3 1210.7 500.6 C1215.4 500.9 1220.2 501.4 1224.9 501.6 C1229.6 501.8 1234.2 501.8 1238.9 501.8 C1243.6 501.8 1248.4 501.7 1253.1 501.8 C1257.8 501.9 1262.3 501.9 1267 502.3 C1271.7 502.7 1276.3 503.5 1281 504.3 C1285.7 505.1 1290.5 506.3 1295.2 507.3 C1299.9 508.3 1304.5 509.1 1309.2 510.3 C1313.9 511.6 1318.7 512.6 1323.4 514.8 C1328.1 517 1332.7 521.4 1337.4 523.5 C1342.1 525.6 1346.9 526 1351.6 527.3 C1356.3 528.5 1360.8 529.5 1365.5 531 C1370.2 532.5 1374.8 534.3 1379.5 536 C1384.2 537.7 1389.6 538.4 1393.7 541 C1397.8 543.6 1401.9 549.6 1404.2 551.5 C1406.5 553.4 1404.8 552.2 1407.7 552.2 C1410.7 552.2 1417.2 551.6 1421.9 551.5 C1426.6 551.4 1431.1 551.5 1435.8 551.7 C1440.5 552 1445.3 552.9 1450 553 C1454.7 553.1 1459.3 552.8 1464 552.2 C1468.7 551.7 1473.3 549.9 1478 549.7 C1482.7 549.5 1487.5 550 1492.2 551 C1496.9 552 1501.6 554.1 1506.2 556 C1510.8 557.9 1515.4 560.4 1520.1 562.2 C1524.8 564 1529.6 566 1534.3 566.7 C1539 567.4 1543.6 565.9 1548.3 566.4 C1553 566.9 1557.8 569.1 1562.5 569.7 C1567.2 570.3 1571.8 570 1576.5 569.9 C1581.2 569.8 1585.8 569.8 1590.5 569.2 C1595.2 568.7 1600 568.1 1604.7 566.6 C1609.4 565.1 1614 562.9 1618.7 560.5 C1623.4 558.1 1628.2 555.8 1632.9 552.5 C1637.6 549.2 1642.1 545.5 1646.8 541 C1651.5 536.5 1657.2 530.1 1661 525.5 C1664.8 520.9 1667.5 516.7 1669.8 513.1 C1672.1 509.5 1672.9 507.2 1675.1 503.9 C1677.3 500.5 1680.7 495.9 1683 493 C1685.3 490.1 1685.6 489.4 1689 486.5 C1692.4 483.6 1698.7 478.8 1703.2 475.7 C1707.7 472.6 1713.9 469.2 1716 467.9" fill="none" stroke="#2196f3" stroke-opacity="0.8" stroke-width="2" stroke-dasharray="8 4"/>
<path d="M28.9 808.8 C31.2 808.8 38.2 809.8 42.9 808.8 C47.6 807.8 52.4 805.6 57.1 803 C61.8 800.4 66.3 796.5 71 793 C75.7 789.5 80.6 787.2 85.3 782 C90 776.8 94.5 768.6 99.2 762 C103.9 755.4 108.8 749.8 113.5 742.5 C118.2 735.2 122.7 725.7 127.4 718.5 C132.1 711.3 136.9 703.4 141.6 699.5 C146.3 695.6 150.9 695.8 155.6 695.4 C160.3 695 165.1 696.6 169.8 697 C174.5 697.4 179.2 698.6 183.8 698 C188.5 697.4 193 696.3 197.7 693.5 C202.4 690.7 207.3 683.2 212 681.3 C216.7 679.4 221.3 679.4 226 682.1 C230.7 684.8 235.3 693.8 239.9 697.5 C244.5 701.2 249.1 702.7 253.8 704.1 C258.5 705.5 263.3 706.4 268 706 C272.7 705.6 277.3 704.5 282 701.8 C286.7 699 291.5 694.5 296.2 689.5 C300.9 684.5 305.5 677.1 310.2 672 C314.9 666.9 319.7 665.1 324.4 659 C329.1 652.9 333.7 638.4 338.4 635.6 C343.1 632.8 347.9 639.5 352.6 642 C357.3 644.5 362.9 645.4 366.5 650.8 C370.1 656.2 371.6 667.5 374 674.5 C376.4 681.5 377.2 684.8 380.7 693 C384.1 701.2 391.3 715.5 394.7 724 C398.1 732.5 398.6 735.3 401 744 C403.4 752.7 406.1 760 408.8 776 C411.5 792 414.9 823.7 417.2 839.7 C419.5 855.7 421.1 862.8 422.9 872 C424.7 881.2 425.7 885.7 428 895 C430.3 904.3 433 915.2 436.9 928 C440.8 940.8 446.4 956.3 451.1 971.9 C455.8 987.5 460.4 1006 465 1021.8 C469.6 1037.6 474.3 1055.8 479 1066.6 C483.7 1077.4 488.5 1081 493.2 1086.6 C497.9 1092.2 502.5 1099.3 507.2 1100.3 C511.9 1101.3 516.5 1096.8 521.2 1092.8 C525.9 1088.8 530.7 1082.6 535.4 1076.6 C540.1 1070.6 544.6 1065.4 549.3 1056.7 C553.9 1048 558.6 1032.8 563.3 1024.3 C568 1015.8 572.8 1013.1 577.5 1005.6 C582.2 998.1 586.8 987.7 591.5 979.4 C596.2 971.1 601 961.4 605.7 955.7 C610.4 950 615 947 619.7 945 C624.4 943 629.2 944.5 633.9 944 C638.6 943.5 643.1 942.6 647.8 942 C652.5 941.4 657.3 940.9 662 940.5 C666.7 940.1 671.3 940.9 676 939.5 C680.7 938.1 686.2 938.2 690 932 C693.8 925.8 696.6 909.7 699 902 C701.4 894.3 701 891.1 704.2 885.9 C707.4 880.7 713.7 875.3 718.4 870.9 C723.1 866.5 728.5 863.1 732.4 859.5 C736.3 855.9 739.6 851.9 742 849 C744.4 846.1 744.6 846.8 746.6 842 C748.6 837.2 751.5 825.6 753.8 820 C756.1 814.4 757 810.9 760.5 808.6 C764 806.3 769.8 808 774.5 806.1 C779.2 804.2 784 799.1 788.7 797.5 C793.4 795.9 798.1 796.7 802.8 796.4 C807.5 796.1 812.1 796 816.8 795.8 C821.5 795.6 826.3 795.3 831 795.4 C835.7 795.5 840.3 796.5 845 796.4 C849.7 796.3 854.5 795.7 859.2 794.6 C863.9 793.5 868.5 790.7 873.1 789.7 C877.8 788.7 882.4 788.9 887.1 788.7 C891.8 788.5 896.6 788.8 901.3 788.7 C906 788.6 910.6 788.1 915.3 788.2 C920 788.3 924.8 788.8 929.5 789.2 C934.2 789.6 938.8 790.9 943.4 790.7 C948 790.5 952.7 789.9 957.4 788 C962.1 786.1 966.9 782.8 971.6 779.3 C976.3 775.8 980.9 770.3 985.6 766.8 C990.3 763.3 996.3 762 999.8 758.1 C1003.2 754.2 1004 749.1 1006.3 743.1 C1008.6 737.1 1011.3 729.2 1013.8 721.9 C1016.3 714.6 1018.8 705.9 1021.2 699.5 C1023.6 693.1 1024.5 688.3 1028 683.3 C1031.5 678.3 1037.2 676.5 1041.9 669.6 C1046.6 662.7 1051.4 649 1056.1 642.1 C1060.8 635.2 1065.4 632.5 1070.1 628.4 C1074.8 624.2 1079.4 620.4 1084.1 617.2 C1088.8 614 1093.6 611.5 1098.3 609 C1103 606.5 1107.5 603.6 1112.2 602.1 C1116.9 600.6 1121.7 597.8 1126.4 600.3 C1131.1 602.8 1135.7 610.9 1140.4 617 C1145.1 623.1 1149.9 632.6 1154.6 637 C1159.3 641.4 1163.8 640.5 1168.5 643.2 C1173.2 645.9 1177.8 650.6 1182.5 653.2 C1187.2 655.8 1192 657.4 1196.7 658.9 C1201.4 660.4 1206 661.7 1210.7 662.4 C1215.4 663.1 1220.2 663.1 1224.9 663.2 C1229.6 663.3 1234.2 663.2 1238.9 663.2 C1243.6 663.2 1248.4 662.8 1253.1 663.2 C1257.8 663.6 1262.3 665.1 1267 665.7 C1271.7 666.3 1276.3 666.4 1281 666.9 C1285.7 667.4 1290.5 668.2 1295.2 668.9 C1299.9 669.6 1304.5 670.5 1309.2 671.1 C1313.9 671.7 1318.7 671.9 1323.4 672.4 C1328.1 672.9 1332.7 672 1337.4 674.4 C1342.1 676.8 1346.9 683.9 1351.6 686.9 C1356.3 689.9 1360.8 689.4 1365.5 692.3 C1370.2 695.2 1374.8 700.6 1379.5 704.3 C1384.2 708 1389 711.8 1393.7 714.3 C1398.4 716.8 1403 717.5 1407.7 719.3 C1412.4 721.1 1417.2 724.2 1421.9 725 C1426.6 725.8 1431.1 723.9 1435.8 724.3 C1440.5 724.7 1445.3 726.7 1450 727.2 C1454.7 727.7 1459.3 727.2 1464 727.2 C1468.7 727.2 1473.3 727.3 1478 727.2 C1482.7 727.1 1487.5 727 1492.2 726.7 C1496.9 726.4 1501.6 726.1 1506.2 725.5 C1510.8 724.9 1515.4 723.7 1520.1 723 C1524.8 722.3 1529.6 721.6 1534.3 721.3 C1539 721 1543.6 721.5 1548.3 721.3 C1553 721.1 1557.8 720.2 1562.5 720 C1567.2 719.8 1571.8 719.8 1576.5 719.8 C1581.2 719.8 1585.8 720 1590.5 720.3 C1595.2 720.6 1600 721.3 1604.7 721.8 C1609.4 722.2 1614 723.5 1618.7 723 C1623.4 722.5 1628.2 719.3 1632.9 718.8 C1637.6 718.3 1642.1 720.5 1646.8 719.8 C1651.5 719.1 1656.3 715.8 1661 714.4 C1665.7 713 1670.4 713.2 1675.1 711.7 C1679.8 710.2 1684.3 708 1689 705.6 C1693.7 703.2 1698.5 699.6 1703.2 697.2 C1707.9 694.8 1714.7 692.1 1717 691.1" fill="none" stroke="#2196f3" stroke-opacity="0.8" stroke-width="2" stroke-dasharray="8 4"/>
<path d="M28.9 663 C31.2 661.3 38.2 655.4 42.9 653 C47.6 650.6 52.4 650.7 57.1 648.5 C61.8 646.3 66.3 642.8 71 639.8 C75.7 636.8 80.6 634.1 85.3 630.6 C90 627.1 94.5 622.4 99.2 618.6 C103.9 614.8 108.8 611.4 113.5 607.9 C118.2 604.4 122.7 601.8 127.4 597.9 C132.1 594 136.9 588.4 141.6 584.2 C146.3 580 150.9 576.6 155.6 572.5 C160.3 568.4 165.1 564 169.8 559.7 C174.5 555.4 179.2 550.8 183.8 546.6 C188.5 542.4 193 539.1 197.7 534.6 C202.4 530.1 207.3 525.2 212 519.6 C216.7 514 221.2 507.8 225.9 500.9 C230.6 494 235.2 485.9 239.9 478.5 C244.6 471.1 249.1 463.4 253.8 456.5 C258.5 449.6 263.3 443.2 268 437 C272.7 430.8 277.3 423.9 282 419.4 C286.7 414.9 291.5 413.8 296.2 410.2 C300.9 406.6 305.5 401.2 310.2 397.7 C314.9 394.2 319.7 391.8 324.4 389.2 C329.1 386.6 333.7 382.8 338.4 382 C343.1 381.2 347.9 383.5 352.6 384.4 C357.3 385.3 361.8 385.2 366.5 387.3 C371.2 389.4 376 393.9 380.7 396.7 C385.4 399.5 390 400.8 394.7 404.1 C399.4 407.5 404.2 410.6 408.9 416.8 C413.6 423 418.2 433.8 422.9 441.1 C427.6 448.4 432.2 453.6 436.9 460.5 C441.6 467.4 446.4 474.8 451.1 482.4 C455.8 490 460.3 497.8 465 505.9 C469.7 514 474.5 523.6 479.2 530.9 C483.9 538.2 488.5 542.5 493.2 549.6 C497.9 556.7 502.5 564.9 507.2 573.2 C511.9 581.5 516.7 591.1 521.4 599.4 C526.1 607.7 530.6 615.1 535.3 623.1 C540 631.1 544.8 639.8 549.5 647.5 C554.2 655.2 558.8 663.6 563.5 669.4 C568.2 675.1 572.9 678.2 577.6 682 C582.3 685.8 586.9 689.1 591.6 692 C596.3 694.9 601.1 697.3 605.8 699.5 C610.5 701.7 615.1 703.2 619.8 705 C624.5 706.8 629.3 708.9 634 710.2 C638.7 711.5 643.3 713.1 648 712.7 C652.7 712.3 657.3 708.6 662 707.7 C666.7 706.8 671.4 708.2 676.1 707.5 C680.8 706.8 685.4 705.8 690.1 703.2 C694.8 700.6 699.6 694.9 704.3 692 C709 689.1 713.6 687.4 718.3 685.8 C723 684.2 727.8 683.8 732.5 682.5 C737.2 681.2 741.9 680.4 746.5 678.3 C751.1 676.2 755.7 671.6 760.4 670 C765.1 668.4 769.9 669.6 774.6 668.8 C779.3 668 783.9 666.1 788.6 665.1 C793.3 664.1 798.1 663.4 802.8 662.8 C807.5 662.2 812.1 662.1 816.8 661.6 C821.5 661.1 826.3 660.5 831 659.6 C835.7 658.7 840.3 656.6 845 656.3 C849.7 656 854.5 657 859.2 657.6 C863.9 658.2 868.5 659.5 873.1 660.1 C877.8 660.7 882.4 661.2 887.1 661.3 C891.8 661.4 896.6 661.7 901.3 660.8 C906 659.9 910.6 657.2 915.3 655.8 C920 654.4 924.8 653.7 929.5 652.6 C934.2 651.5 938.8 650.6 943.4 649.1 C948 647.6 952.7 645.5 957.4 643.4 C962.1 641.3 966.9 639 971.6 636.6 C976.3 634.2 980.9 631.8 985.6 629.2 C990.3 626.6 995.1 624.1 999.8 620.9 C1004.5 617.6 1009.1 613.2 1013.8 609.7 C1018.5 606.2 1023.3 602.4 1028 599.7 C1032.7 597 1037.2 596 1041.9 593.5 C1046.6 591 1051.4 587.4 1056.1 584.8 C1060.8 582.2 1065.4 580 1070.1 578 C1074.8 576 1079.4 574.6 1084.1 573.1 C1088.8 571.6 1093.6 570.5 1098.3 569.2 C1103 567.9 1107.5 566.3 1112.2 565.4 C1116.9 564.5 1121.7 563.7 1126.4 563.9 C1131.1 564.1 1135.7 565.7 1140.4 566.7 C1145.1 567.8 1149.9 569.1 1154.6 570.2 C1159.3 571.3 1163.8 572.1 1168.5 573.4 C1173.2 574.7 1177.8 576.7 1182.5 577.9 C1187.2 579.1 1192 579.7 1196.7 580.4 C1201.4 581.1 1206 581.7 1210.7 582.1 C1215.4 582.5 1220.2 582.8 1224.9 582.9 C1229.6 583 1234.2 582.9 1238.9 582.9 C1243.6 582.9 1248.4 582.7 1253.1 582.9 C1257.8 583.1 1262.3 583.5 1267 583.9 C1271.7 584.3 1276.3 584.8 1281 585.4 C1285.7 586 1290.5 586.8 1295.2 587.6 C1299.9 588.4 1304.5 589.5 1309.2 590.4 C1313.9 591.3 1318.7 591.8 1323.4 593.3 C1328.1 594.8 1332.7 597.3 1337.4 599.6 C1342.1 601.9 1346.9 604.8 1351.6 607.1 C1356.3 609.4 1360.8 610.9 1365.5 613.3 C1370.2 615.7 1374.8 618.9 1379.5 621.5 C1384.2 624.1 1389 626.4 1393.7 628.8 C1398.4 631.2 1403 634.1 1407.7 635.7 C1412.4 637.3 1417.2 637.8 1421.9 638.2 C1426.6 638.6 1431.1 637.9 1435.8 638.2 C1440.5 638.5 1445.3 639.8 1450 640 C1454.7 640.2 1459.3 639.7 1464 639.5 C1468.7 639.3 1473.3 638.8 1478 638.7 C1482.7 638.6 1487.5 638.7 1492.2 639 C1496.9 639.3 1501.6 640.1 1506.2 640.7 C1510.8 641.3 1515.4 642 1520.1 642.5 C1524.8 643 1529.6 643.8 1534.3 644 C1539 644.2 1543.6 643.8 1548.3 644 C1553 644.2 1557.8 644.8 1562.5 645 C1567.2 645.2 1571.8 645 1576.5 645 C1581.2 645 1585.8 645.1 1590.5 645 C1595.2 644.9 1600 645.1 1604.7 644.4 C1609.4 643.7 1614 642.4 1618.7 640.8 C1623.4 639.1 1628.2 636.6 1632.9 634.5 C1637.6 632.4 1642.1 631.1 1646.8 628.3 C1651.5 625.5 1656.3 621.5 1661 617.5 C1665.7 613.5 1670.4 608.5 1675.1 604.5 C1679.8 600.5 1684.3 596.9 1689 593.7 C1693.7 590.5 1698.5 587.8 1703.2 585.4 C1707.9 583 1714.7 580.6 1717 579.6" fill="none" stroke="#2196f3" stroke-opacity="0.93" stroke-width="3" stroke-linejoin="round"/>
<text class="sans" x="1727" y="467" font-size="17.5" fill="#2196f3" letter-spacing="1.2">BB</text>
</g>
<rect x="2136" y="477" width="118" height="40" rx="5" fill="#2962ff"/>
<text class="sans" x="2146" y="505" font-size="22" font-weight="bold" fill="#ffffff">5136.91</text>
<rect x="28" y="1170" width="2" height="12" fill="#181c27"/>
<text class="ax" x="28.9" y="1203.6" text-anchor="middle">13:00 26/01</text>
<rect x="239" y="1170" width="2" height="12" fill="#181c27"/>
<text class="ax" x="240" y="1203.6" text-anchor="middle">01:00 29/01</text>
<rect x="450" y="1170" width="2" height="12" fill="#181c27"/>
<text class="ax" x="451" y="1203.6" text-anchor="middle">13:00 02/02</text>
<rect x="661" y="1170" width="2" height="12" fill="#181c27"/>
<text class="ax" x="662.1" y="1203.6" text-anchor="middle">01:00 05/02</text>
<rect x="872" y="1170" width="2" height="12" fill="#181c27"/>
<text class="ax" x="873.1" y="1203.6" text-anchor="middle">13:00 09/02</text>
<rect x="1083" y="1170" width="2" height="12" fill="#181c27"/>
<text class="ax" x="1084.2" y="1203.6" text-anchor="middle">01:00 12/02</text>
<rect x="1294" y="1170" width="2" height="12" fill="#181c27"/>
<text class="ax" x="1295.2" y="1203.6" text-anchor="middle">13:00 16/02</text>
<rect x="1505" y="1170" width="2" height="12" fill="#181c27"/>
<text class="ax" x="1506.3" y="1203.6" text-anchor="middle">01:00 19/02</text>
<rect x="1716" y="1170" width="2" height="12" fill="#181c27"/>
<text class="ax" x="1717.3" y="1203.6" text-anchor="middle">11:00 23/02</text>
<rect x="0" y="1270" width="2286" height="14" fill="#1e222d"/>
<rect x="0" y="1270" width="2286" height="1.5" fill="#2a2e39"/>
<rect x="1104" y="1276" width="80" height="4" rx="2" fill="#363a45"/>
<rect x="20" y="1333" width="2106" height="2" fill="#2a2e39"/>
<text class="ax" x="2132" y="1340.4">100</text>
<rect x="20" y="1377" width="2106" height="2" fill="#2a2e39"/>
<line x1="20" y1="1378" x2="2126" y2="1378" stroke="#8c3a3d" stroke-width="2" stroke-dasharray="6 6"/>
<text class="ax" x="2132" y="1384.4">70</text>
<rect x="20" y="1407" width="2106" height="2" fill="#2a2e39"/>
<line x1="20" y1="1408" x2="2126" y2="1408" stroke="#62656e" stroke-width="2" stroke-dasharray="6 6"/>
<text class="ax" x="2132" y="1414.4">50</text>
<rect x="20" y="1436" width="2106" height="2" fill="#2a2e39"/>
<line x1="20" y1="1437" x2="2126" y2="1437" stroke="#1f756f" stroke-width="2" stroke-dasharray="6 6"/>
<text class="ax" x="2132" y="1443.4">30</text>
<rect x="20" y="1481" width="2106" height="2" fill="#2a2e39"/>
<text class="ax" x="2132" y="1488.4">0</text>
<polyline points="20,1357.7 34.2,1355.5 48.4,1379.7 62.6,1382.7 76.8,1383.7 91.1,1383.7 105.3,1389.4 119.5,1379.7 133.7,1372.5 147.9,1372.5 162.1,1369.7 176.3,1374.7 190.5,1377.9 204.7,1375.9 218.9,1365 233.2,1360.7 247.4,1341.8 261.6,1353.3 275.8,1354.8 290,1385.2 304.2,1379.9 318.4,1388.7 332.6,1408.1 346.8,1422.3 361,1427.1 375.2,1436.8 389.5,1432.8 403.7,1441.5 417.9,1457.2 432.1,1453.2 446.3,1455.2 460.5,1455 474.7,1455 488.9,1435 503.1,1438.5 517.4,1429.3 531.6,1423.1 545.8,1413.5 560,1412.9 574.2,1393.8 588.4,1393.8 602.6,1380.3 616.8,1355.4 631,1388.5 645.2,1382.3 659.5,1379 673.7,1385.3 687.9,1406.5 702.1,1406.5 716.3,1414 730.5,1425.2 744.7,1425.4 758.9,1412.7 773.1,1427.2 787.3,1422.9 801.6,1417.7 815.8,1416.9 830,1397.2 844.2,1398.7 858.4,1401.7 872.6,1392.8 886.8,1381.8 901,1377 915.2,1385 929.4,1364.6 943.7,1362.3 957.9,1373.1 972.1,1370.8 986.3,1380.3 1000.5,1381 1014.7,1381.8 1028.9,1383.5 1043.1,1396.5 1057.3,1374.8 1071.5,1378.3 1085.8,1400.5 1100,1400.5 1114.2,1388.5 1128.4,1390 1142.6,1436.1 1156.8,1440.9 1171,1417.9 1185.2,1423.9 1199.4,1425.2 1213.6,1420.7 1227.9,1415.4 1242.1,1412 1256.3,1418.9 1270.5,1423.7 1284.7,1415.9 1298.9,1421.2 1313.1,1421.4 1327.3,1421.7 1341.5,1404.2 1355.7,1414 1370,1418.7 1384.2,1422.2 1398.4,1428.4 1412.6,1429.7 1426.8,1435.9 1441,1429.7 1455.2,1429.9 1469.4,1415.2 1483.6,1410.5 1497.8,1411.5 1512.1,1411.5 1526.3,1407.2 1540.5,1400.7 1554.7,1382.3 1568.9,1393 1583.1,1370.8 1597.3,1367.8 1611.5,1367.3 1625.7,1367 1639.9,1371.2 1654.2,1359.1 1668.4,1359.9 1682.6,1358.8 1696.8,1346.2 1711,1343.6 1725.2,1357.9" fill="none" stroke="#2962ff" stroke-width="3" stroke-linejoin="round"/>
<text class="sans" x="20.5" y="1313.6" font-size="20.5" font-weight="bold" fill="#b3b3b6" letter-spacing="1.7">RSI</text>
<text class="sans" x="84" y="1317.8" font-size="32" fill="#dcdcde">(14)</text>
<text class="mono" x="170.5" y="1316" font-size="22.6" fill="#ef5350" textLength="63" lengthAdjust="spacingAndGlyphs">83.46</text>
<rect x="2226" y="1288" width="40" height="40" rx="6" fill="#2a2e39"/>
<path d="M2238.3 1301.6 L2253.3 1316.6 M2253.3 1301.6 L2238.3 1316.6" stroke="#9598a1" stroke-width="2" fill="none"/>
</svg>
</body></html>
